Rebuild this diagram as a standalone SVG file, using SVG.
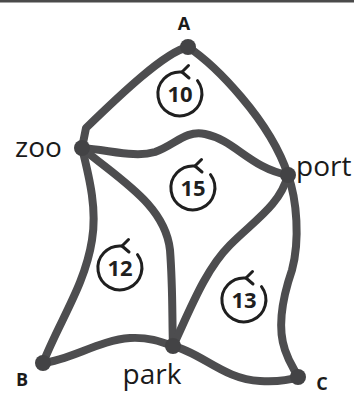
<svg xmlns="http://www.w3.org/2000/svg" width="354" height="394" viewBox="0 0 354 394">
<defs>
<style>
.edge{fill:none;stroke:#4d4d4f;stroke-width:8;stroke-linecap:round;stroke-linejoin:round}
.dot{fill:#434345}
.lbl{font-family:"Open Sans","Liberation Sans",sans-serif;font-size:28px;fill:#1a1a1a}
.key{font-family:"Open Sans","Liberation Sans",sans-serif;font-size:18px;font-weight:bold;fill:#1a1a1a}
.ring{fill:none;stroke:#1f1f1f;stroke-width:3;stroke-linecap:round;stroke-linejoin:round}
.num{font-family:"Open Sans","Liberation Sans",sans-serif;font-size:22px;font-weight:bold;fill:#1f1f1f;text-anchor:middle}
</style>
<g id="cyc">
<path class="ring" d="M2,-22 A22,22 0 1 0 17.5,-13.3"/>
<path class="ring" d="M8.5,-28.5 L2,-22 L9,-16"/>
</g>
</defs>
<rect x="0" y="0" width="354" height="2.5" fill="#4a4a4a"/>
<g id="connectors">
<path class="edge" d="M188,47 C165,52 120,95 86,128 L82,148"/>
<path class="edge" d="M188,47 C215,65 270,120 288,175"/>
<path class="edge" d="M82,148 C110,150 135,158 155,152 C175,145 185,130 205,134 C235,140 250,168 288,175"/>
<path class="edge" d="M82,148 C120,180 165,205 170,250 C173,290 172,320 173,346"/>
<path class="edge" d="M82,148 C90,180 97,210 92,240 C85,285 60,320 43,363"/>
<path class="edge" d="M43,363 C70,360 100,340 130,338 C150,337 162,342 173,346"/>
<path class="edge" d="M173,346 C200,352 225,380 260,381 C280,382 290,380 298,377"/>
<path class="edge" d="M173,346 C190,310 205,270 230,245 C255,220 280,205 288,175"/>
<path class="edge" d="M288,175 C297,200 300,240 292,270 C280,305 278,330 285,350 C290,365 295,370 298,377"/>
</g>
<g id="node-A"><circle class="dot" cx="188" cy="47" r="8"/><text class="key" x="184" y="30" text-anchor="middle">A</text></g>
<g id="node-zoo"><circle class="dot" cx="82" cy="148" r="8"/><text class="lbl" x="15" y="157">zoo</text></g>
<g id="node-port"><circle class="dot" cx="288" cy="175" r="8"/><text class="lbl" x="296" y="176">port</text></g>
<g id="node-B"><circle class="dot" cx="43" cy="363" r="8"/><text class="key" x="22" y="386" text-anchor="middle">B</text></g>
<g id="node-park"><circle class="dot" cx="173" cy="346" r="8"/><text class="lbl" x="152" y="384" text-anchor="middle">park</text></g>
<g id="node-C"><circle class="dot" cx="298" cy="377" r="8"/><text class="key" x="322" y="390" text-anchor="middle">C</text></g>
<g id="cycle-10"><use href="#cyc" x="180" y="94"/><text class="num" x="180" y="102">10</text></g>
<g id="cycle-15"><use href="#cyc" x="193" y="188"/><text class="num" x="193" y="196">15</text></g>
<g id="cycle-12"><use href="#cyc" x="120" y="268"/><text class="num" x="120" y="276">12</text></g>
<g id="cycle-13"><use href="#cyc" x="244" y="300"/><text class="num" x="244" y="308">13</text></g>
</svg>
